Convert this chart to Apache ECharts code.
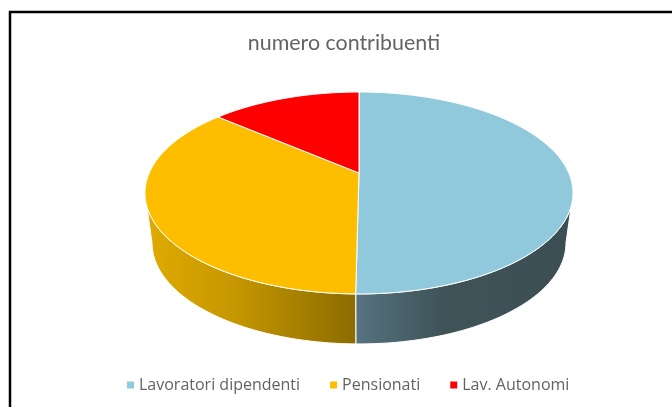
<!DOCTYPE html>
<html>
<head>
<meta charset="utf-8">
<style>
  html, body { margin: 0; padding: 0; background: #fff; }
  #chart { width: 672px; height: 407px; }
</style>
<script src="https://cdn.jsdelivr.net/npm/echarts@6/dist/echarts.min.js"></script>
</head>
<body>
<div id="chart"></div>
<script>
var categories = ['Lavoratori dipendenti', 'Pensionati', 'Lav. Autonomi'];
var values = [50.2, 36.1, 13.7];
var topColors = ['#90c9db', '#fdbe00', '#ff0000'];
// side wall gradient per slice, left to right
var sideStops = [
  ['#56737f', '#3f5359', '#3b4e54'],
  ['#e0ab00', '#c79800', '#8c6c00'],
  ['#990000', '#990000', '#990000']
];

var chart = echarts.init(document.getElementById('chart'));
var total = values.reduce(function (a, b) { return a + b; }, 0);

// pie is tilted in perspective: the apex sits above the middle of the rim ellipse
var APEX_X = 359, APEX_Y = 173;
var PERSP = -0.198, SCALE_Y = 97, SCALE_X = 209.8;
var DEPTH = 50, WALL_SHRINK = 0.967;
var FRONT_FROM = 0.2817, FRONT_TO = 0.7183;

function startFraction(idx) {
  var s = 0;
  for (var i = 0; i < idx; i++) s += values[i];
  return s / total;
}
function rim(frac) {
  var a = frac * Math.PI * 2;
  var u = Math.sin(a), v = -Math.cos(a);
  var w = 1 + PERSP * v;
  return [APEX_X + SCALE_X * u / w, APEX_Y + SCALE_Y * v / w];
}
function rimLow(frac) {
  var p = rim(frac);
  return [APEX_X + (p[0] - APEX_X) * WALL_SHRINK, p[1] + DEPTH];
}
function arc(from, to, fn) {
  var pts = [];
  var n = Math.max(2, Math.ceil((to - from) * 240));
  for (var i = 0; i <= n; i++) pts.push(fn(from + (to - from) * i / n));
  return pts;
}

function renderSide(params, api) {
  var i = api.value(0);
  var from = startFraction(i);
  var to = from + values[i] / total;
  var a = Math.max(from, FRONT_FROM), b = Math.min(to, FRONT_TO);
  if (a >= b) return null;
  var pts = arc(a, b, rim).concat(arc(a, b, rimLow).reverse());
  var xs = pts.map(function (p) { return p[0]; });
  var c = sideStops[i];
  return {
    type: 'polygon',
    shape: { points: pts },
    style: {
      fill: new echarts.graphic.LinearGradient(Math.min.apply(null, xs), 0, Math.max.apply(null, xs), 0, [
        { offset: 0, color: c[0] },
        { offset: 0.4, color: c[1] },
        { offset: 1, color: c[2] }
      ], true),
      stroke: '#fff',
      lineWidth: 1
    }
  };
}

function renderTop(params, api) {
  var i = api.value(0);
  var from = startFraction(i);
  var to = from + values[i] / total;
  var pts = [[APEX_X, APEX_Y]].concat(arc(from, to, rim));
  return {
    type: 'polygon',
    shape: { points: pts },
    style: { fill: topColors[i], stroke: '#fff', lineWidth: 1, lineJoin: 'round' }
  };
}

var series = [];
categories.forEach(function (c, i) {
  series.push({
    type: 'custom', name: 'wall ' + c, coordinateSystem: 'none', renderItem: renderSide,
    data: [{ name: c, value: [i, values[i]] }], silent: true, z: 1
  });
});
categories.forEach(function (c, i) {
  series.push({
    type: 'custom', name: c, coordinateSystem: 'none', renderItem: renderTop,
    itemStyle: { color: topColors[i] },
    data: [{ name: c, value: [i, values[i]] }], silent: true, z: 2
  });
});

chart.setOption({
  animation: false,
  backgroundColor: '#fff',
  title: {
    text: 'numero contribuenti',
    left: 339, top: 28, textAlign: 'center',
    textStyle: { fontFamily: 'Lato', fontSize: 21.4, fontWeight: 'normal', color: '#636363' }
  },
  legend: {
    data: categories.map(function (c, i) { return { name: c, itemStyle: { color: topColors[i] } }; }),
    left: 122, top: 372,
    icon: 'rect', itemWidth: 7, itemHeight: 7, itemGap: 30, selectedMode: false,
    textStyle: { fontFamily: 'Open Sans', fontSize: 16, color: '#636363' }
  },
  series: series,
  graphic: [{
    type: 'polyline', silent: true, z: 10,
    shape: { points: [[10, 407], [10, 12], [672, 12]] },
    style: { fill: null, stroke: '#000', lineWidth: 2.5 }
  }]
});
</script>
</body>
</html>
